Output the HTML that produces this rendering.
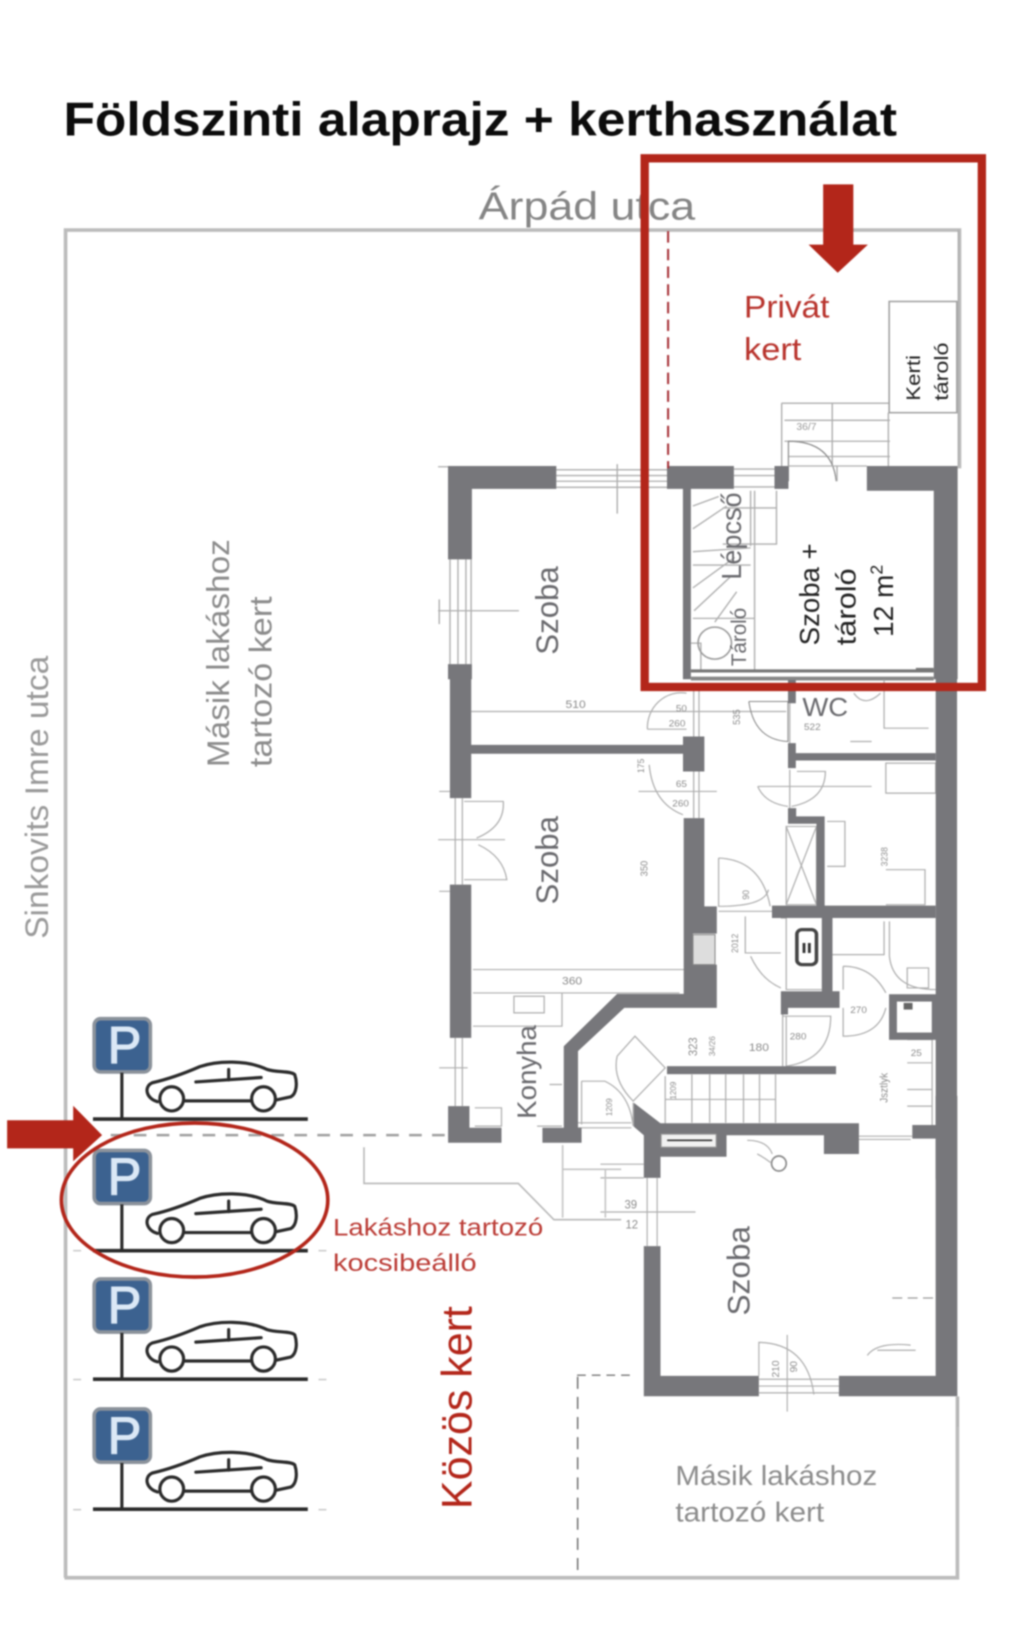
<!DOCTYPE html>
<html><head><meta charset="utf-8"><style>
html,body{margin:0;padding:0;background:#fff}
svg{display:block;filter:blur(.7px)}
text{font-family:"Liberation Sans",sans-serif}
.w{fill:#77777b}
.t{fill:none;stroke:#aeaeae;stroke-width:3.5}
.d{fill:none;stroke:#8a8a8a;stroke-width:3}
.car{fill:none;stroke:#2b2b2b;stroke-width:8;stroke-linecap:round;stroke-linejoin:round}
</style></head><body>
<svg width="1024" height="1632" viewBox="0 0 984 1568" xmlns="http://www.w3.org/2000/svg">
<rect width="985" height="1570" fill="#fff"/>
<text x="61" y="130" font-size="45" font-weight="700" fill="#0c0c0c" textLength="801" lengthAdjust="spacingAndGlyphs">Földszinti alaprajz + kerthasználat</text>

<!-- site boundary -->
<path d="M63,1516V221H922V450M920,1342V1516H62" fill="none" stroke="#bcbcbc" stroke-width="3.5"/>
<text x="460" y="211" font-size="37" fill="#858585" textLength="208" lengthAdjust="spacingAndGlyphs">Árpád utca</text>
<text transform="translate(46,902) rotate(-90)" font-size="31" fill="#9a9a9a" textLength="272" lengthAdjust="spacingAndGlyphs">Sinkovits Imre utca</text>
<text transform="translate(220,737) rotate(-90)" font-size="30" fill="#8c8c8c" textLength="219" lengthAdjust="spacingAndGlyphs">Másik lakáshoz</text>
<text transform="translate(261,737) rotate(-90)" font-size="30" fill="#8c8c8c" textLength="164" lengthAdjust="spacingAndGlyphs">tartozó kert</text>
<text x="649" y="1427" font-size="27" fill="#8c8c8c" textLength="194" lengthAdjust="spacingAndGlyphs">Másik lakáshoz</text>
<text x="649" y="1462" font-size="27" fill="#8c8c8c" textLength="143" lengthAdjust="spacingAndGlyphs">tartozó kert</text>

<!-- ZOOM 1 group -->
<g transform="translate(384.6,125.6) scale(.3826,.366)">
  <path class="t" d="M95,882H120M392,890H670M392,905H670M392,920H670M392,936H670M545,875V1005"/>
  <path class="t" d="M125,1125V1400M145,1125V1400M165,1125V1400M178,1125V1400M95,1260H298M98,1230V1295"/>
  <path class="t" d="M838,888H940M838,905H940M838,935H940"/>
  <path class="t" d="M958,715H1230M958,715V880M1085,715V880M965,760H1230M965,815H1230M975,855H1230M1226,740V880M1402,260V880"/>
  <path class="d" d="M975,920V815Q1085,815 1095,920"/>
  <path class="t" d="M975,880H1172M1097,880V920"/>
  <text x="995" y="785" font-size="26" fill="#999">36/7</text>
  <rect x="1228" y="448" width="170" height="292" fill="#fff" stroke="#a0a0a0" stroke-width="4"/>
  <path class="w" d="M120,880H392V940H180V1125H120ZM120,1400H180V1440H120ZM670,880H838V940H730V1440H710V940H670ZM940,880H975V940H940ZM1172,880H1400V1440H1340V945H1232V945H1172Z"/>
  <path d="M735,985L800,960M735,1045L820,985M735,1105L880,1095M735,1140H880M735,1200L840,1120M738,1260L830,1170M845,1210L790,1290M890,945V1420M945,945V1085H810M735,1280H890M810,990H945M880,945V1090M730,1345H755V1420H730" class="t"/>
  <circle cx="790" cy="1345" r="42" fill="none" stroke="#9a9a9a" stroke-width="4"/>
  <path d="M730,1418H1340" stroke="#777" stroke-width="8" fill="none"/>
  <path d="M730,1438H1340" stroke="#888" stroke-width="10" fill="none"/>
  <rect x="1295" y="1410" width="45" height="12" fill="#777"/>
</g>

<!-- ZOOM 2 group -->
<g transform="translate(413.5,634) scale(.342,.32)">
  <path class="t" d="M70,415V675M90,415V675M25,395H55M22,540H210M25,695H55M740,90V230M755,90V230M740,335V475M755,335V475M115,155H1000M610,208H720M585,395H805"/>
  <path class="t" d="M610,208A95,105 0 0 1 720,100"/>
  <path class="t" d="M615,315Q625,430 710,465M95,425H205Q210,500 130,535M95,660H215Q205,590 135,555"/>
  <path class="t" d="M1010,130V250M1010,330V445M1000,500H1085V735H1000ZM1000,500L1085,735M1085,500L1000,735M920,380H1240M1030,335H1110Q1110,420 1015,440M920,380Q940,430 1005,440"/>
  <path class="d" d="M895,125H1005V245Q910,240 895,125"/>
  <path class="t" d="M1275,60V205H1400M1280,310H1420V400H1280ZM1115,485H1165V620H1115M1280,630H1390V735H1280M1190,100Q1220,145 1265,100M1180,245H1240"/>
  <path class="t" d="M120,1000H700M120,930H715M235,1010H320V1060H235ZM120,1100H370V1000M300,1400H370M335,1275H370M125,1345H200V1400H125M70,1135V1340M90,1135V1340M25,1225H105"/>
  <path class="t" d="M810,595V740Q940,740 950,690M810,595Q930,600 955,740M810,755H965M900,890Q930,960 985,985M885,770V880H985M985,775H1000V990H1100"/>
  <path class="t" d="M1130,885H1275V785M1290,785V890Q1300,990 1420,990M1160,920Q1240,920 1280,1000M1160,920V990M1160,1045V1130Q1260,1130 1280,1045M1340,925H1400V985H1340ZM1340,1140H1410V1400M1340,1210H1410M1340,1290H1410M1340,1340H1410"/>
  <path class="t" d="M990,1070H1125Q1125,1200 1000,1220M990,1045V1220M1000,1070V1220M735,1245V1390M785,1245V1390M830,1245V1390M880,1245V1390M925,1245V1390M970,1245V1390M660,1250V1395M660,1320H970M425,1265H490Q560,1300 570,1400V1330M425,1265V1395M415,1390H565M415,1405H565"/>
  <path class="t" d="M525,1190L575,1130L660,1225L570,1325Q510,1260 525,1190"/>
  <path class="t" d="M1200,1440H1350"/>
  <g fill="#8c8c8c" font-size="34">
    <text x="380" y="145">510</text><text x="370" y="975">360</text>
    <text x="690" y="155" font-size="28">50</text><text x="670" y="200" font-size="28">260</text>
    <text x="690" y="382" font-size="28">65</text><text x="680" y="440" font-size="28">260</text>
    <text x="1050" y="210" font-size="28">522</text><text x="1180" y="1060" font-size="28">270</text><text x="1010" y="1140" font-size="28">280</text>
    <text x="895" y="1175">180</text><text x="1350" y="1190" font-size="28">25</text>
    <text transform="translate(750,1190) rotate(-90)">323</text><text transform="translate(800,1190) rotate(-90)" font-size="24">34/26</text>
    <text transform="translate(610,650) rotate(-90)" font-size="28">350</text>
    <text transform="translate(600,340) rotate(-90)" font-size="26">175</text>
    <text transform="translate(870,195) rotate(-90)" font-size="28">535</text>
    <text transform="translate(1285,1330) rotate(-90)" font-size="30">Jsztlyk</text>
    <text transform="translate(1285,620) rotate(-90)" font-size="26">3238</text>
    <text transform="translate(895,720) rotate(-90)" font-size="26">90</text>
    <text transform="translate(865,880) rotate(-90)" font-size="26">2012</text>
    <text transform="translate(510,1370) rotate(-90)" font-size="24">1209</text>
    <text transform="translate(690,1320) rotate(-90)" font-size="24">1209</text>
  </g>
  <rect x="1030" y="810" width="55" height="105" rx="14" fill="none" stroke="#444" stroke-width="10"/>
  <path d="M1050,850V880M1065,850V880" stroke="#333" stroke-width="8"/>
  <rect x="738" y="830" width="60" height="85" fill="#e8e8e8" stroke="#888" stroke-width="3"/>
  <path class="w" d="M55,20H115V415H55ZM55,675H115V1135H55ZM50,1340H110V1405H200V1450H50ZM115,255H710V230H770V335H710V282H115Z"/>
  <path class="w" d="M375,1160L525,1003H712V475H770V740H805V822H738V915H805V1045H545L415,1175V1405H425V1450H315V1405H375Z"/>
  <rect x="738" y="825" width="62" height="90" fill="#ddd" stroke="#888" stroke-width="3"/>
  <path class="w" d="M1005,60H1027V130H1005ZM1005,250H1027V280H1420V302H1027V325H1005ZM1005,445H1028V470H1108V738H1420V775H1130V995H1150V1045H1005V1065H985V995H1100V775H960V738H1085V492H1005Z"/>
  <rect x="1300" y="1015" width="120" height="115" fill="none" stroke="#77777b" stroke-width="22"/>
  <rect x="1330" y="1030" width="25" height="20" fill="#666"/>
  <rect x="665" y="1220" width="475" height="24" class="w"/>
  <rect x="1420" y="0" width="60" height="1560" class="w"/>
</g>

<!-- ZOOM 4 group: lower-right room -->
<g transform="translate(577,1053) scale(.3205,.328)">
  <path class="w" d="M100,20L180,80H775V170H670V115H378V178H180V240H130V115L100,90ZM935,85H1005V125H935ZM130,440H180V820H475V880H130ZM715,820H1005V0H1070V880H715Z"/>
  <rect x="182" y="112" width="165" height="38" fill="#f1f1f1" stroke="#999" stroke-width="3"/>
  <path d="M200,130H335" stroke="#333" stroke-width="5"/>
  <path class="t" d="M140,240V440M170,240V440M0,340H285M0,200H130M0,240H130M475,830H715M475,850H715M475,870H715M775,118H935"/>
  <path class="t" d="M475,820V722Q620,725 640,875M560,700V925"/>
  <path d="M875,592H1005" stroke="#9a9a9a" stroke-width="4" stroke-dasharray="30 16" fill="none"/>
  <path d="M-70,818H100" stroke="#777" stroke-width="4" stroke-dasharray="26 18" fill="none"/>
  <circle cx="535" cy="198" r="22" fill="none" stroke="#888" stroke-width="5"/>
  <path class="t" d="M440,130Q500,130 515,170M470,170Q490,180 510,195M800,760Q830,720 930,730M830,745H945"/>
  <g fill="#8c8c8c" font-size="34"><text x="72" y="330">39</text><text x="75" y="388">12</text>
  <text transform="translate(535,825) rotate(-90)" font-size="30">210</text><text transform="translate(590,810) rotate(-90)" font-size="30">90</text></g>
  <path class="t" d="M1072,880V970"/>
</g>

<!-- ZOOM 3 group: parking -->
<g transform="translate(0,961) scale(.3802,.387)">
  <path d="M280,335H1130" stroke="#a0a0a0" stroke-width="6" stroke-dasharray="32 26" fill="none"/>
  <path d="M920,365V455H1310L1400,545H1570" fill="none" stroke="#b8b8b8" stroke-width="4"/>
  <path d="M1422,360V540M1530,420V540M1422,420H1570" fill="none" stroke="#c4c4c4" stroke-width="4"/>
  <path d="M1460,935V1430" fill="none" stroke="#777" stroke-width="4" stroke-dasharray="30 20"/>
  <path d="M185,622H205M805,622H825M185,942H205M805,942H825M185,1265H205M805,1265H825" stroke="#ccc" stroke-width="4"/>

  <g>
    <rect x="238" y="46" width="142" height="132" rx="16" fill="#3c6290" stroke="#8b929b" stroke-width="9"/>
    <text x="272" y="156" font-size="128" fill="#dbe8f6" stroke="#dbe8f6" stroke-width="3">P</text>
    <path d="M308,180V295" stroke="#2b2b2b" stroke-width="8"/><path d="M235,295H778" stroke="#2b2b2b" stroke-width="9"/>
    <path class="car" d="M398,252C370,245 362,215 385,205C430,195 470,180 505,165C550,150 625,148 675,172C700,180 735,175 745,185C752,205 750,232 735,240L697,248M635,250H465M495,203L660,192M578,172V198"/>
    <circle class="car" cx="434" cy="245" r="30"/><circle class="car" cx="666" cy="245" r="30"/>
  </g>
  <g transform="translate(0,327)">
    <rect x="238" y="46" width="142" height="132" rx="16" fill="#3c6290" stroke="#8b929b" stroke-width="9"/>
    <text x="272" y="156" font-size="128" fill="#dbe8f6" stroke="#dbe8f6" stroke-width="3">P</text>
    <path d="M308,180V295" stroke="#2b2b2b" stroke-width="8"/><path d="M235,295H778" stroke="#2b2b2b" stroke-width="9"/>
    <path class="car" d="M398,252C370,245 362,215 385,205C430,195 470,180 505,165C550,150 625,148 675,172C700,180 735,175 745,185C752,205 750,232 735,240L697,248M635,250H465M495,203L660,192M578,172V198"/>
    <circle class="car" cx="434" cy="245" r="30"/><circle class="car" cx="666" cy="245" r="30"/>
  </g>
  <g transform="translate(0,646)">
    <rect x="238" y="46" width="142" height="132" rx="16" fill="#3c6290" stroke="#8b929b" stroke-width="9"/>
    <text x="272" y="156" font-size="128" fill="#dbe8f6" stroke="#dbe8f6" stroke-width="3">P</text>
    <path d="M308,180V295" stroke="#2b2b2b" stroke-width="8"/><path d="M235,295H778" stroke="#2b2b2b" stroke-width="9"/>
    <path class="car" d="M398,252C370,245 362,215 385,205C430,195 470,180 505,165C550,150 625,148 675,172C700,180 735,175 745,185C752,205 750,232 735,240L697,248M635,250H465M495,203L660,192M578,172V198"/>
    <circle class="car" cx="434" cy="245" r="30"/><circle class="car" cx="666" cy="245" r="30"/>
  </g>
  <g transform="translate(0,969)">
    <rect x="238" y="46" width="142" height="132" rx="16" fill="#3c6290" stroke="#8b929b" stroke-width="9"/>
    <text x="272" y="156" font-size="128" fill="#dbe8f6" stroke="#dbe8f6" stroke-width="3">P</text>
    <path d="M308,180V295" stroke="#2b2b2b" stroke-width="8"/><path d="M235,295H778" stroke="#2b2b2b" stroke-width="9"/>
    <path class="car" d="M398,252C370,245 362,215 385,205C430,195 470,180 505,165C550,150 625,148 675,172C700,180 735,175 745,185C752,205 750,232 735,240L697,248M635,250H465M495,203L660,192M578,172V198"/>
    <circle class="car" cx="434" cy="245" r="30"/><circle class="car" cx="666" cy="245" r="30"/>
  </g>
  <path d="M18,298H185V262L258,335L185,400V368H18Z" fill="#b3261a"/>
</g>

<!-- room labels -->
<g fill="#6a6a6e">
  <text transform="translate(536,629) rotate(-90)" font-size="30" textLength="85" lengthAdjust="spacingAndGlyphs">Szoba</text>
  <text transform="translate(536,869) rotate(-90)" font-size="30" textLength="85" lengthAdjust="spacingAndGlyphs">Szoba</text>
  <text transform="translate(720,1264) rotate(-90)" font-size="30" textLength="86" lengthAdjust="spacingAndGlyphs">Szoba</text>
  <text transform="translate(515,1075) rotate(-90)" font-size="26" textLength="90" lengthAdjust="spacingAndGlyphs">Konyha</text>
  <text x="771" y="688" font-size="25" textLength="44" lengthAdjust="spacingAndGlyphs">WC</text>
  <text transform="translate(712,557) rotate(-90)" font-size="27" textLength="84" lengthAdjust="spacingAndGlyphs">Lépcső</text>
  <text transform="translate(717,640) rotate(-90)" font-size="20" textLength="56" lengthAdjust="spacingAndGlyphs">Tároló</text>
</g>
<g fill="#222">
  <text transform="translate(787,620) rotate(-90)" font-size="27" textLength="98" lengthAdjust="spacingAndGlyphs">Szoba +</text>
  <text transform="translate(822,620) rotate(-90)" font-size="27" textLength="74" lengthAdjust="spacingAndGlyphs">tároló</text>
  <text transform="translate(858,612) rotate(-90)" font-size="27">12 m<tspan font-size="17" dy="-10">2</tspan></text>
  <text transform="translate(884,385) rotate(-90)" font-size="19" textLength="44" lengthAdjust="spacingAndGlyphs">Kerti</text>
  <text transform="translate(911,385) rotate(-90)" font-size="19" textLength="56" lengthAdjust="spacingAndGlyphs">tároló</text>
</g>

<!-- red overlay -->
<path d="M642,222V450" stroke="#a8343a" stroke-width="2" stroke-dasharray="11 6" fill="none"/>
<rect x="619.5" y="152" width="324" height="508" fill="none" stroke="#b3261a" stroke-width="8"/>
<path d="M791,177H820V235H834L805,262L777,235H791Z" fill="#b3261a"/>
<text x="715" y="305" font-size="30" fill="#b8332c" textLength="82" lengthAdjust="spacingAndGlyphs">Privát</text>
<text x="715" y="346" font-size="30" fill="#b8332c" textLength="55" lengthAdjust="spacingAndGlyphs">kert</text>
<ellipse cx="187" cy="1153" rx="128" ry="74" fill="none" stroke="#b3261a" stroke-width="3.5"/>
<text x="320" y="1187" font-size="23" fill="#bb3c36" textLength="202" lengthAdjust="spacingAndGlyphs">Lakáshoz tartozó</text>
<text x="320" y="1221" font-size="23" fill="#bb3c36" textLength="138" lengthAdjust="spacingAndGlyphs">kocsibeálló</text>
<text transform="translate(453,1450) rotate(-90)" font-size="41" fill="#b3261a" textLength="195" lengthAdjust="spacingAndGlyphs">Közös kert</text>
</svg>
</body></html>
